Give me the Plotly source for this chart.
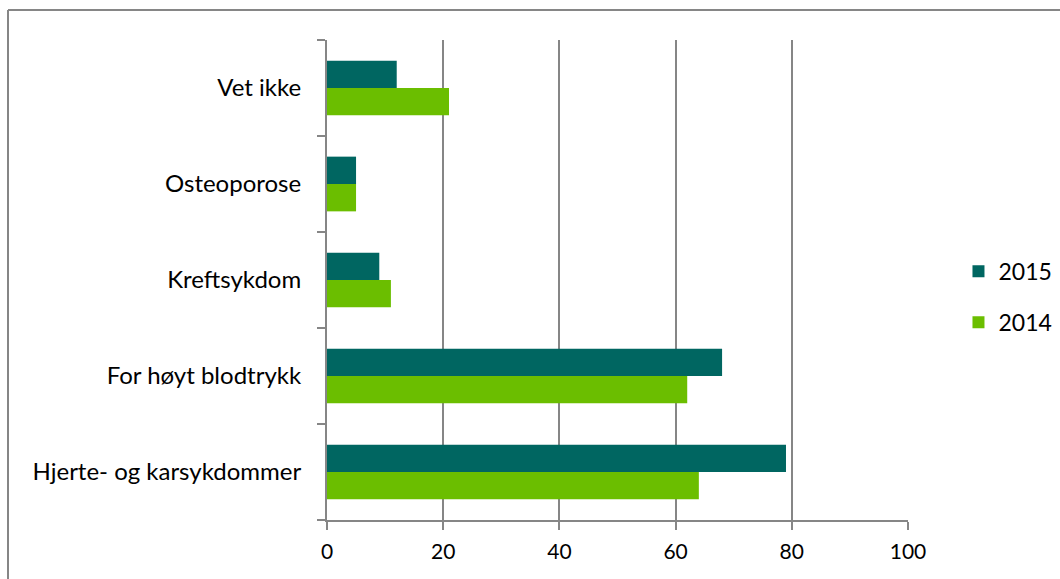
import plotly.graph_objects as go

categories = ["Hjerte- og karsykdommer", "For høyt blodtrykk", "Kreftsykdom", "Osteoporose", "Vet ikke"]
values_2015 = [79, 68, 9, 5, 12]
values_2014 = [64, 62, 11, 5, 21]
x_ticks = [0, 20, 40, 60, 80, 100]

FONT = "Lato"
GRID = "#868686"

fig = go.Figure()
fig.add_trace(go.Bar(y=categories, x=values_2014, name="2014", orientation="h",
                     marker=dict(color="#6BBE00", line=dict(width=0)),
                     legendgroup="b", legendrank=2))
fig.add_trace(go.Bar(y=categories, x=values_2015, name="2015", orientation="h",
                     marker=dict(color="#006661", line=dict(width=0)),
                     legendgroup="a", legendrank=1))

fig.update_layout(
    width=1060, height=579,
    margin=dict(l=327, r=152, t=40, b=59, autoexpand=False),
    paper_bgcolor="white", plot_bgcolor="white",
    barmode="group", bargap=0.43, bargroupgap=0,
    font=dict(family=FONT, size=22, color="black"),
    showlegend=True,
    legend=dict(x=1.08 + 4 / 581, y=0.465, xanchor="left", yanchor="middle",
                traceorder="grouped", tracegroupgap=18,
                font=dict(size=23, family=FONT), itemwidth=30),
    xaxis=dict(range=[0, 100], tickvals=x_ticks, showgrid=True, gridcolor=GRID, gridwidth=2,
               showline=True, linecolor=GRID, linewidth=2, ticks="outside", ticklen=8,
               tickcolor=GRID, tickwidth=2, zeroline=False, fixedrange=True,
               tickfont=dict(size=21), ticklabelstandoff=4),
    yaxis=dict(type="category", categoryorder="array", categoryarray=categories,
               tickson="boundaries", showline=True, linecolor=GRID, linewidth=2,
               ticks="outside", ticklen=8, tickcolor=GRID, tickwidth=2, showgrid=False,
               tickfont=dict(size=24), ticklabelstandoff=19),
)
# outer chart frame (top and left visible)
fig.add_shape(type="line", xref="paper", yref="paper",
              x0=(8 - 327) / 581, x1=(1070 - 327) / 581, y0=(579 - 59 - 10) / 480, y1=(579 - 59 - 10) / 480,
              line=dict(color=GRID, width=2))
fig.add_shape(type="line", xref="paper", yref="paper",
              x0=(8 - 327) / 581, x1=(8 - 327) / 581, y0=(579 - 59 - 10) / 480, y1=-0.2,
              line=dict(color=GRID, width=2))

fig.write_html("out.html")
